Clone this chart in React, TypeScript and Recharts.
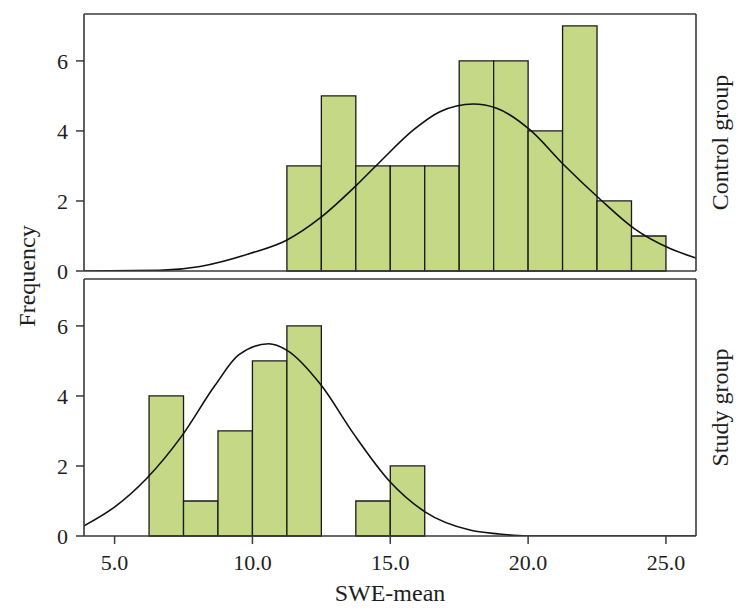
import React from 'react';
import { ComposedChart, Line, XAxis, YAxis, ReferenceArea, Label } from 'recharts';

// ---- data ----
const xDomain = [3.89, 26.09];
const yDomain = [0, 7.34];
const xTicks = [5, 10, 15, 20, 25];
const yTicks = [0, 2, 4, 6];

const controlBinEdges = [11.25, 12.5, 13.75, 15, 16.25, 17.5, 18.75, 20, 21.25, 22.5, 23.75, 25];
const controlCounts = [3, 5, 3, 3, 3, 6, 6, 4, 7, 2, 1];

const studyBinEdges = [6.25, 7.5, 8.75, 10, 11.25, 12.5, 13.75, 15, 16.25];
const studyCounts = [4, 1, 3, 5, 6, 0, 1, 2];

const controlCurveX = [3.89, 6.64, 8.1, 9.91, 11.24, 12.48, 13.75, 14.63, 15.84, 16.8, 18.01, 18.86, 20.07, 21.31, 22.61, 23.85, 25.15, 26.09];
const controlCurveY = [0, 0.02, 0.13, 0.5, 0.88, 1.53, 2.43, 3.12, 4.03, 4.55, 4.77, 4.65, 4.03, 3.02, 2.05, 1.21, 0.64, 0.37];

const studyCurveX = [3.89, 5.02, 6.17, 7.44, 8.65, 9.5, 10.59, 11.24, 12.49, 13.66, 14.99, 16.26, 17.89, 18.9, 19.95, 26.09];
const studyCurveY = [0.29, 0.84, 1.65, 2.86, 4.31, 5.17, 5.49, 5.31, 4.31, 2.93, 1.55, 0.69, 0.17, 0.06, 0, 0];

const groupLabels = ['Control group', 'Study group'];
const xLabel = 'SWE-mean';
const yLabel = 'Frequency';

// ---- styles ----
const FONT = '"Liberation Serif", "DejaVu Serif", serif';
const BAR_FILL = '#c5d886';
const BAR_STROKE = '#1a1a1a';
const FRAME = '#3a3a3a';
const TEXT = '#1e1e1e';

const toPoints = (xs: number[], ys: number[]) => xs.map((x, i) => ({ x, y: ys[i] }));

type PanelProps = {
  curveX: number[];
  curveY: number[];
  edges: number[];
  counts: number[];
  label: string;
  bottom: boolean;
  height: number;
  marginTop: number;
  marginBottom: number;
};

function Panel({ curveX, curveY, edges, counts, label, bottom, height, marginTop, marginBottom }: PanelProps) {
  const data = toPoints(curveX, curveY);
  const tickStyle = { fill: TEXT, fontSize: 22, fontFamily: FONT };
  return (
    <ComposedChart
      width={743}
      height={height}
      data={data}
      margin={{ top: marginTop, right: 0, bottom: marginBottom, left: 0 }}
      style={{ overflow: 'visible' }}
    >
      <XAxis
        dataKey="x"
        type="number"
        domain={xDomain}
        allowDataOverflow
        ticks={xTicks}
        tick={bottom ? tickStyle : false}
        tickFormatter={(v: number) => v.toFixed(1)}
        tickLine={bottom ? { stroke: FRAME, strokeWidth: 1.5 } : false}
        tickSize={8}
        tickMargin={10}
        height={bottom ? 80 : 1}
        axisLine={{ stroke: FRAME, strokeWidth: 1.6 }}
      >
        {bottom ? (
          <Label
            value={xLabel}
            position="insideBottom"
            offset={15}
            style={{ fontSize: 24, fontFamily: FONT, fill: TEXT }}
          />
        ) : null}
      </XAxis>
      <XAxis
        xAxisId="frame"
        orientation="top"
        type="number"
        domain={xDomain}
        allowDataOverflow
        ticks={xTicks}
        tick={false}
        tickLine={false}
        height={1}
        axisLine={{ stroke: FRAME, strokeWidth: 1.6 }}
      />
      <YAxis
        type="number"
        domain={yDomain}
        allowDataOverflow
        ticks={yTicks}
        interval={0}
        tick={tickStyle}
        tickLine={{ stroke: FRAME, strokeWidth: 1.5 }}
        tickSize={8}
        tickMargin={8}
        width={84}
        axisLine={{ stroke: FRAME, strokeWidth: 1.6 }}
      />
      <YAxis
        yAxisId="frame"
        orientation="right"
        type="number"
        domain={[0, 1]}
        tick={false}
        tickLine={false}
        width={47}
        axisLine={{ stroke: FRAME, strokeWidth: 1.6 }}
      >
        <Label
          value={label}
          angle={-90}
          position="center"
          style={{ fontSize: 24, fontFamily: FONT, fill: TEXT }}
        />
      </YAxis>
      {counts.map((c, i) =>
        c > 0 ? (
          <ReferenceArea
            key={i}
            x1={edges[i]}
            x2={edges[i + 1]}
            y1={0}
            y2={c}
            fill={BAR_FILL}
            fillOpacity={1}
            stroke={BAR_STROKE}
            strokeWidth={1.3}
            ifOverflow="visible"
          />
        ) : null
      )}
      <Line
        dataKey="y"
        type="monotone"
        stroke="#111"
        strokeWidth={1.6}
        dot={false}
        activeDot={false}
        isAnimationActive={false}
      />
    </ComposedChart>
  );
}

export default function App() {
  return (
    <div style={{ position: 'absolute', left: 0, top: 0, width: 743, height: 616, background: '#fff' }}>
      <style>{'.recharts-surface{overflow:visible}'}</style>
      <div style={{ position: 'absolute', left: 0, top: 276 }}>
        <Panel
          curveX={studyCurveX}
          curveY={studyCurveY}
          edges={studyBinEdges}
          counts={studyCounts}
          label={groupLabels[1]}
          bottom={true}
          height={340}
          marginTop={2}
          marginBottom={0}
        />
      </div>
      <div style={{ position: 'absolute', left: 0, top: 0 }}>
        <Panel
          curveX={controlCurveX}
          curveY={controlCurveY}
          edges={controlBinEdges}
          counts={controlCounts}
          label={groupLabels[0]}
          bottom={false}
          height={276}
          marginTop={13}
          marginBottom={4}
        />
      </div>
      <svg
        width={60}
        height={200}
        style={{ position: 'absolute', left: 0, top: 176, overflow: 'visible' }}
      >
        <text
          x={27}
          y={100}
          transform="rotate(-90, 27, 100)"
          textAnchor="middle"
          dominantBaseline="central"
          style={{ fontSize: 24, fontFamily: FONT, fill: TEXT }}
        >
          {yLabel}
        </text>
      </svg>
    </div>
  );
}
